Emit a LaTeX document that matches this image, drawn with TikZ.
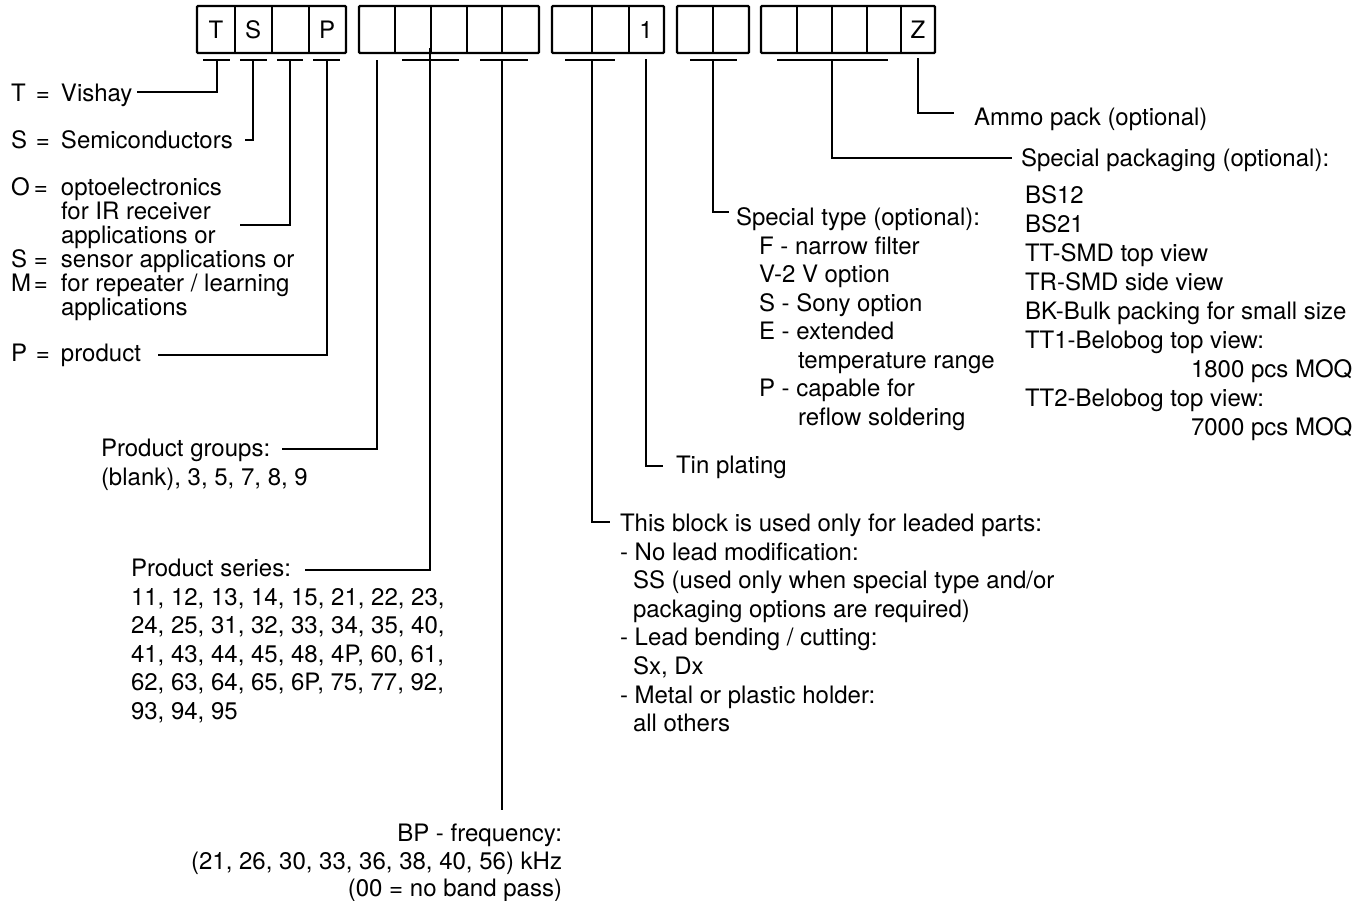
\documentclass[tikz,border=0pt]{standalone}
\usepackage{fontspec}
\setmainfont{TeX Gyre Heros}
\newcommand\fstrut{\rule{0pt}{18pt}}
\newcommand\eqlbl[4]{\makebox[#1][l]{#3}\makebox[#2][l]{=}#4}
\begin{document}
\begin{tikzpicture}[x=1pt,y=-1pt,line width=2pt,
  lbl/.style={anchor=north west,inner sep=0pt,align=left,font=\fontsize{24}{28.6}\selectfont},
  cellbox/.style={line width=2.2pt,rounded corners=1pt},
  letter/.style={inner sep=0pt,font=\fontsize{24}{28}\selectfont},
  conn/.style={line width=2pt}]
\useasboundingbox (0,0) rectangle (1356,900);
% ---------- boxes ----------
\draw[cellbox] (197,6) rectangle (346,53);
\draw[cellbox] (235,6) -- (235,53) (272,6) -- (272,53) (309,6) -- (309,53);
\draw[cellbox] (359,6) rectangle (539,53);
\draw[cellbox] (395,6) -- (395,53) (431,6) -- (431,53) (467,6) -- (467,53) (502,6) -- (502,53);
\draw[cellbox] (552,6) rectangle (664,53);
\draw[cellbox] (592,6) -- (592,53) (629,6) -- (629,53);
\draw[cellbox] (677,6) rectangle (749,53);
\draw[cellbox] (713,6) -- (713,53);
\draw[cellbox] (761,6) rectangle (935,53);
\draw[cellbox] (797,6) -- (797,53) (832,6) -- (832,53) (867,6) -- (867,53) (901,6) -- (901,53);
\node[letter] (lT) at (216,30) {T};
\node[letter] (lS) at (253,30) {S};
\node[letter] (lP) at (327,30) {P};
\node[letter] (l1) at (646,30) {1};
\node[letter] (lZ) at (918,30) {Z};
% ---------- texts ----------
\node[lbl] (vishay) at (10,82.5) {\fstrut\eqlbl{25pt}{25pt}{T}{Vishay}};
\node[lbl] (semi) at (10,129.5) {\fstrut\eqlbl{25pt}{25pt}{S}{Semiconductors}};
\node[lbl,font=\fontsize{24}{24}\selectfont] (opto) at (10,176.5) {\fstrut\eqlbl{23pt}{27pt}{O}{optoelectronics}\\
  \hspace*{50pt}for IR receiver\\
  \hspace*{50pt}applications or\\
  \eqlbl{23pt}{27pt}{S}{sensor applications or}\\
  \makebox[50pt][l]{M\hspace{3pt}=}for repeater / learning\\
  \hspace*{50pt}applications};
\node[lbl] (prod) at (10,342.5) {\fstrut\eqlbl{25pt}{25pt}{P}{product}};
\node[lbl] (pgroups) at (100,437.5) {\fstrut Product groups:\\(blank), 3, 5, 7, 8, 9};
\node[lbl] (pseries) at (130,557.5) {\fstrut Product series:\\
  11, 12, 13, 14, 15, 21, 22, 23,\\
  24, 25, 31, 32, 33, 34, 35, 40,\\
  41, 43, 44, 45, 48, 4P, 60, 61,\\
  62, 63, 64, 65, 6P, 75, 77, 92,\\
  93, 94, 95};
\node[lbl,anchor=north east,align=right,font=\fontsize{24}{27.5}\selectfont] (bp) at (563,822.5) {\fstrut BP - frequency:\\
  (21, 26, 30, 33, 36, 38, 40, 56) kHz\\
  (00 = no band pass)};
\node[lbl] (block) at (619,512.5) {\fstrut This block is used only for leaded parts:\\
  - No lead modification:\\
  \hspace*{13pt}SS (used only when special type and/or\\
  \hspace*{13pt}packaging options are required)\\
  - Lead bending / cutting:\\
  \hspace*{13pt}Sx, Dx\\
  - Metal or plastic holder:\\
  \hspace*{13pt}all others};
\node[lbl] (tin) at (675,454.5) {\fstrut Tin plating};
\node[lbl,font=\fontsize{24}{28.5}\selectfont] (stype) at (735,206.5) {\fstrut Special type (optional):\\
  \hspace*{23pt}F - narrow filter\\
  \hspace*{23pt}V-2 V option\\
  \hspace*{23pt}S - Sony option\\
  \hspace*{23pt}E - extended\\
  \hspace*{62pt}temperature range\\
  \hspace*{23pt}P - capable for\\
  \hspace*{62pt}reflow soldering};
\node[lbl] (spack) at (1020,147.5) {\fstrut Special packaging (optional):};
\node[lbl,font=\fontsize{24}{29}\selectfont] (plist) at (1024,184.5) {\fstrut BS12\\
  BS21\\
  TT-SMD top view\\
  TR-SMD side view\\
  BK-Bulk packing for small size\\
  TT1-Belobog top view:\\
  \hspace*{166pt}1800 pcs MOQ\\
  TT2-Belobog top view:\\
  \hspace*{166pt}7000 pcs MOQ};
\node[lbl] (ammo) at (973,106.5) {\fstrut Ammo pack (optional)};
% ---------- connector coordinates ----------
\coordinate (bT) at (217,60);  \coordinate (eT) at (137,92);
\coordinate (bS) at (253,60);  \coordinate (eS) at (245,140);
\coordinate (bO) at (290,60);  \coordinate (eO) at (240,225);
\coordinate (bP) at (327,60);  \coordinate (eP) at (158,355);
\coordinate (bG) at (377,60);  \coordinate (eG) at (282,449);
\coordinate (bSer) at (430,48); \coordinate (eSer) at (305,570);
\coordinate (bBP) at (502,60); \coordinate (eBP) at (502,810);
\coordinate (bBl) at (592,60); \coordinate (eBl) at (610,522);
\coordinate (bTin) at (646,59); \coordinate (eTin) at (663,466);
\coordinate (bSt) at (713,60); \coordinate (eSt) at (729,212);
\coordinate (bPk) at (832,60); \coordinate (ePk) at (1012,158);
\coordinate (bZ) at (918,58);  \coordinate (eZ) at (954,113);
% ---------- bars ----------
\draw[conn] (203,60) -- (230,60) (240,60) -- (267,60) (277,60) -- (303,60) (313,60) -- (340,60);
\draw[conn] (402,60) -- (459,60) (480,60) -- (528,60) (565,60) -- (615,60)
            (690,60) -- (737,60) (777,60) -- (888,60);
% ---------- connectors ----------
\draw[conn] (bT) |- (eT);
\draw[conn] (bS) |- (eS);
\draw[conn] (bO) |- (eO);
\draw[conn] (bP) |- (eP);
\draw[conn] (bG) |- (eG);
\draw[conn] (bSer) |- (eSer);
\draw[conn] (bBP) -- (eBP);
\draw[conn] (bBl) |- (eBl);
\draw[conn] (bTin) |- (eTin);
\draw[conn] (bSt) |- (eSt);
\draw[conn] (bPk) |- (ePk);
\draw[conn] (bZ) |- (eZ);
\end{tikzpicture}
\end{document}
